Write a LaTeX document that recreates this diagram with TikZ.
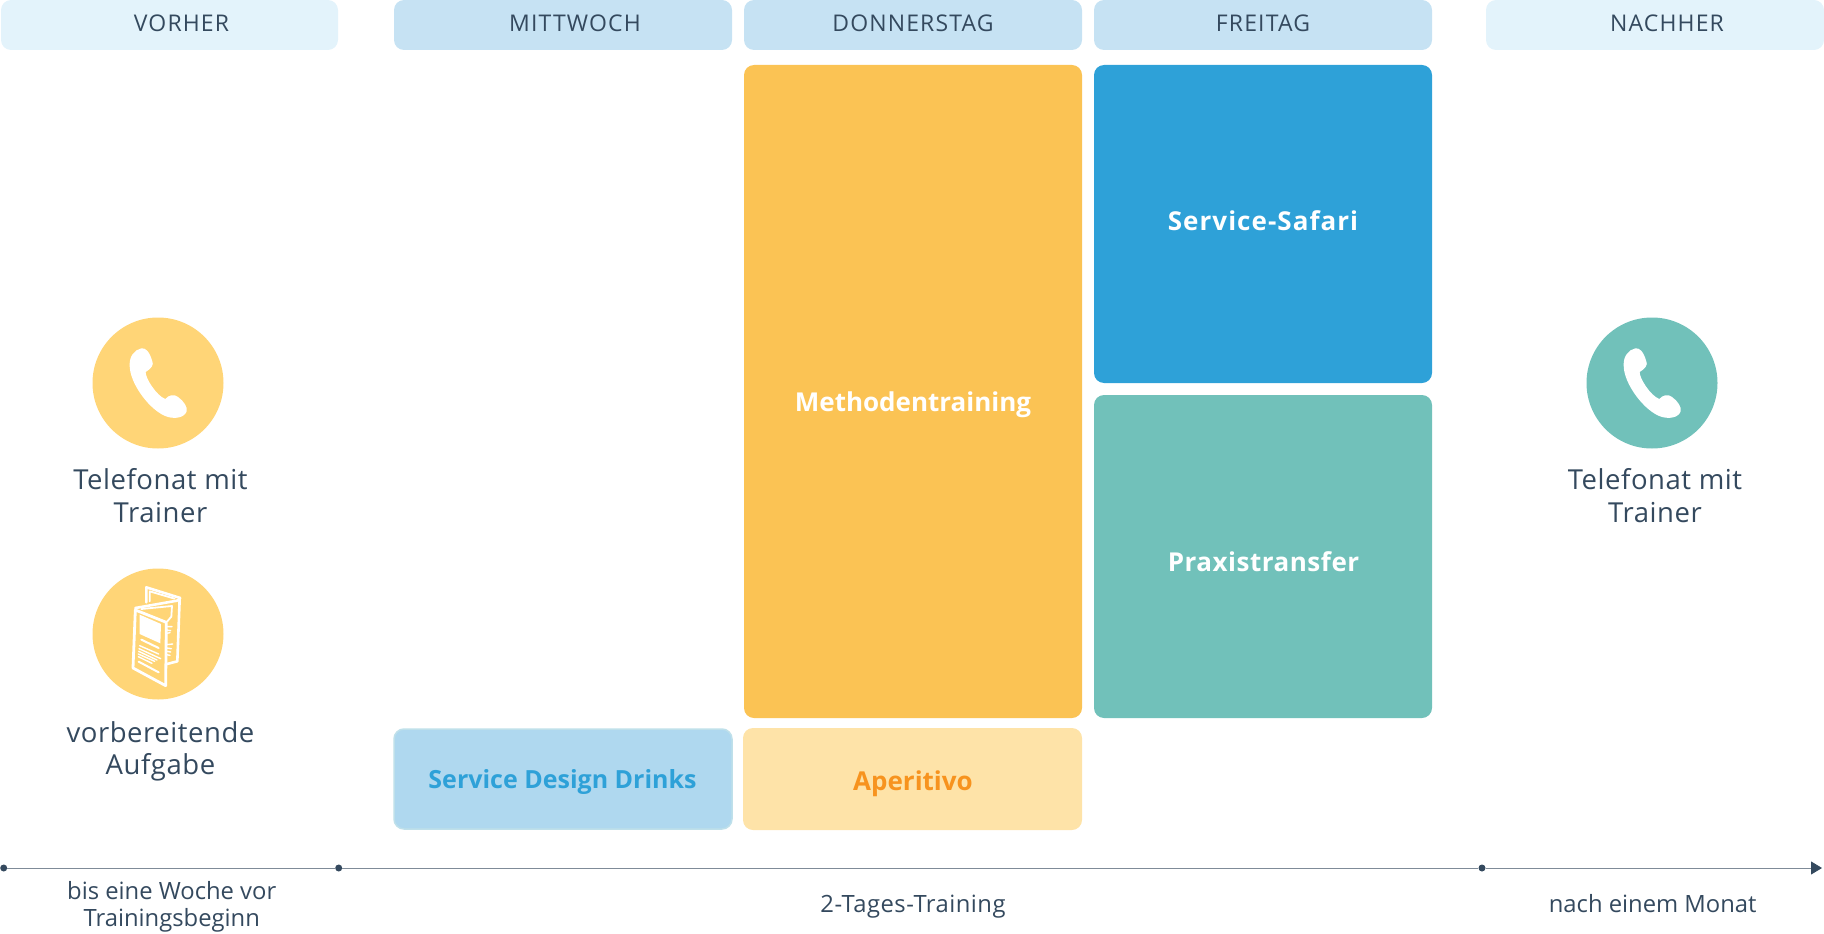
\documentclass[tikz,border=0pt]{standalone}
\usepackage{fontspec}
\setmainfont{Open Sans}
\usetikzlibrary{arrows.meta}
\definecolor{ink}{HTML}{34495E}
\definecolor{axisline}{HTML}{7F8B98}
\definecolor{hdrlight}{HTML}{E3F3FB}
\definecolor{hdrday}{HTML}{C6E2F3}
\definecolor{orangebox}{HTML}{FBC354}
\definecolor{bluebox}{HTML}{2EA1D8}
\definecolor{tealbox}{HTML}{71C1BA}
\definecolor{lightblue}{HTML}{AFD8EF}
\definecolor{lightblueedge}{HTML}{BFE0EA}
\definecolor{lightorange}{HTML}{FEE3A8}
\definecolor{aperitext}{HTML}{F7931E}
\definecolor{circleyellow}{HTML}{FFD577}
\tikzset{
  x=1pt,y=-1pt,
  box/.style={rounded corners=10pt,anchor=north west,inner sep=0pt,outer sep=0pt},
  hdr/.style={anchor=base,text=ink,font=\fontsize{23}{23}\selectfont\addfontfeatures{LetterSpace=5}},
  body/.style={anchor=base,text=ink,font=\fontsize{27.5}{27.5}\selectfont\addfontfeatures{LetterSpace=2}},
  small/.style={anchor=base,text=ink,font=\fontsize{23.8}{23.8}\selectfont},
  strong/.style={anchor=base,text=white,font=\fontsize{26}{26}\bfseries\selectfont},
  disc/.style={circle,inner sep=0pt,minimum size=131pt},
  dot/.style={circle,fill=ink,inner sep=0pt,minimum size=7pt},
  axisrule/.style={draw=axisline,line width=1pt},
  pics/phone/.style={code={
    \fill[white,x=0.3333pt,y=-0.3333pt] (-50,-104) .. controls (-38,-106) and (-26,-96) .. (-17,-65)
      .. controls (-12,-55) and (-20,-43) .. (-37,-33)
      .. controls (-38,-15) and (-5,38) .. (22,48)
      .. controls (32,36) and (48,32) .. (60,42)
      .. controls (78,54) and (90,75) .. (86,85)
      .. controls (78,106) and (50,107) .. (30,102)
      .. controls (-22,87) and (-87,0) .. (-85,-55)
      .. controls (-86,-80) and (-70,-100) .. (-50,-104) -- cycle;
  }},
  pics/brochure/.style={code={
    \begin{scope}[x=0.3333pt,y=-0.3333pt,draw=white,line join=round,line cap=round]
      \draw[line width=2.8pt] (-68,-72) -- (-75,102) -- (23,155) -- (25,-35) -- cycle;
      \draw[line width=2.6pt] (-68,-78) -- (57,-100) -- (65,-105) -- (58,82) -- (27,90);
      \draw[line width=2.6pt] (-35,-95) -- (-35,-140) -- (67,-108);
      \draw[line width=1.8pt] (-25,-98) -- (-25,-128) -- (50,-106);
      \draw[line width=1.8pt] (-50,-75) -- (42,-84) -- (40,-52) -- (28,-38);
      \fill[white] (-55,-58) -- (9,-30) -- (7,28) -- (-55,0) -- cycle;
      \draw[line width=2pt] (-50,17) -- (2,42);
      \draw[line width=1.4pt] (-55,35) -- (2,60) (-57,44) -- (8,74) (-58,52) -- (-3,78) (-59,60) -- (-10,82) (-59,68) -- (-18,88);
      \draw[line width=2pt] (-58,83) -- (2,115);
      \draw[line width=1.4pt] (26,-22) -- (42,-22) (26,-12) -- (38,-10) (26,-2) -- (36,-4) (26,32) -- (44,30) (26,42) -- (40,44) (26,52) -- (38,54) (26,62) -- (36,64);
    \end{scope}
  }}
}
\begin{document}
\begin{tikzpicture}
\useasboundingbox (0,0) rectangle (1824,934);
% headers
\node[box,fill=hdrlight,minimum width=337pt,minimum height=50pt] (hVorher) at (1,0) {};
\node[box,fill=hdrday,minimum width=338pt,minimum height=50pt] (hMi) at (394,0) {};
\node[box,fill=hdrday,minimum width=338pt,minimum height=50pt] (hDo) at (744,0) {};
\node[box,fill=hdrday,minimum width=338pt,minimum height=50pt] (hFr) at (1094,0) {};
\node[box,fill=hdrlight,minimum width=338pt,minimum height=50pt] (hNa) at (1486,0) {};
\node[hdr] (tVorher) at (181.5,32) {VORHER};
\node[hdr] (tMi) at (575,32) {MITTWOCH};
\node[hdr] (tDo) at (913,32) {DONNERSTAG};
\node[hdr] (tFr) at (1263,32) {FREITAG};
\node[hdr] (tNa) at (1667,32) {NACHHER};
% sessions
\node[box,fill=orangebox,minimum width=338pt,minimum height=653pt] (bMeth) at (744,65) {};
\node[box,fill=bluebox,minimum width=338pt,minimum height=318pt] (bSafari) at (1094,65) {};
\node[box,fill=tealbox,minimum width=338pt,minimum height=323pt] (bPraxis) at (1094,395) {};
\node[box,fill=lightblue,draw=lightblueedge,line width=1.5pt,minimum width=338pt,minimum height=100pt] (bDrinks) at (394,729) {};
\node[box,fill=lightorange,minimum width=339pt,minimum height=102pt] (bApero) at (743,728) {};
\node[strong] (tMeth) at (913,411) {Methodentraining};
\node[strong,font=\fontsize{26}{26}\bfseries\selectfont\addfontfeatures{LetterSpace=4}] (tSafari) at (1263,230) {Service-Safari};
\node[strong,font=\fontsize{26}{26}\bfseries\selectfont\addfontfeatures{LetterSpace=2}] (tPraxis) at (1263.5,571) {Praxistransfer};
\node[strong,text=bluebox,font=\fontsize{25}{25}\bfseries\selectfont] (tDrinks) at (562.5,788) {Service Design Drinks};
\node[strong,text=aperitext] (tApero) at (913,790) {Aperitivo};
% icons
\node[disc,fill=circleyellow] (cPhoneA) at (158,383) {};
\node[disc,fill=circleyellow] (cBrochure) at (158,634) {};
\node[disc,fill=tealbox] (cPhoneB) at (1652,383) {};
\pic at (cPhoneA) {phone};
\pic at (cPhoneB) {phone};
\pic at (cBrochure) {brochure};
\node[body] (tTelA) at (160.5,489) {Telefonat mit};
\node[body] (tTrA) at (160.5,522) {Trainer};
\node[body] (tVor) at (160.5,742) {vorbereitende};
\node[body] (tAuf) at (160.5,774) {Aufgabe};
\node[body] (tTelB) at (1655,489) {Telefonat mit};
\node[body] (tTrB) at (1655,522) {Trainer};
% axis
\node[dot] (a0) at (3.7,868) {};
\node[dot] (a1) at (338.7,868) {};
\node[dot] (a2) at (1482,868) {};
\coordinate (aEnd) at (1822,868);
\draw[axisrule] (a0) -- (a1);
\draw[axisrule] (a1) -- (a2);
\draw[axisrule,-{Triangle[length=11pt,width=13pt,fill=ink,color=ink]}] (a2) -- (aEnd);
\node[small] (tBis) at (171.7,899) {bis eine Woche vor};
\node[small] (tBeg) at (171.7,926.5) {Trainingsbeginn};
\node[small,font=\fontsize{23.8}{23.8}\selectfont\addfontfeatures{LetterSpace=2}] (tTage) at (913,912) {2-Tages-Training};
\node[small] (tMon) at (1652.7,912) {nach einem Monat};
\end{tikzpicture}
\end{document}
